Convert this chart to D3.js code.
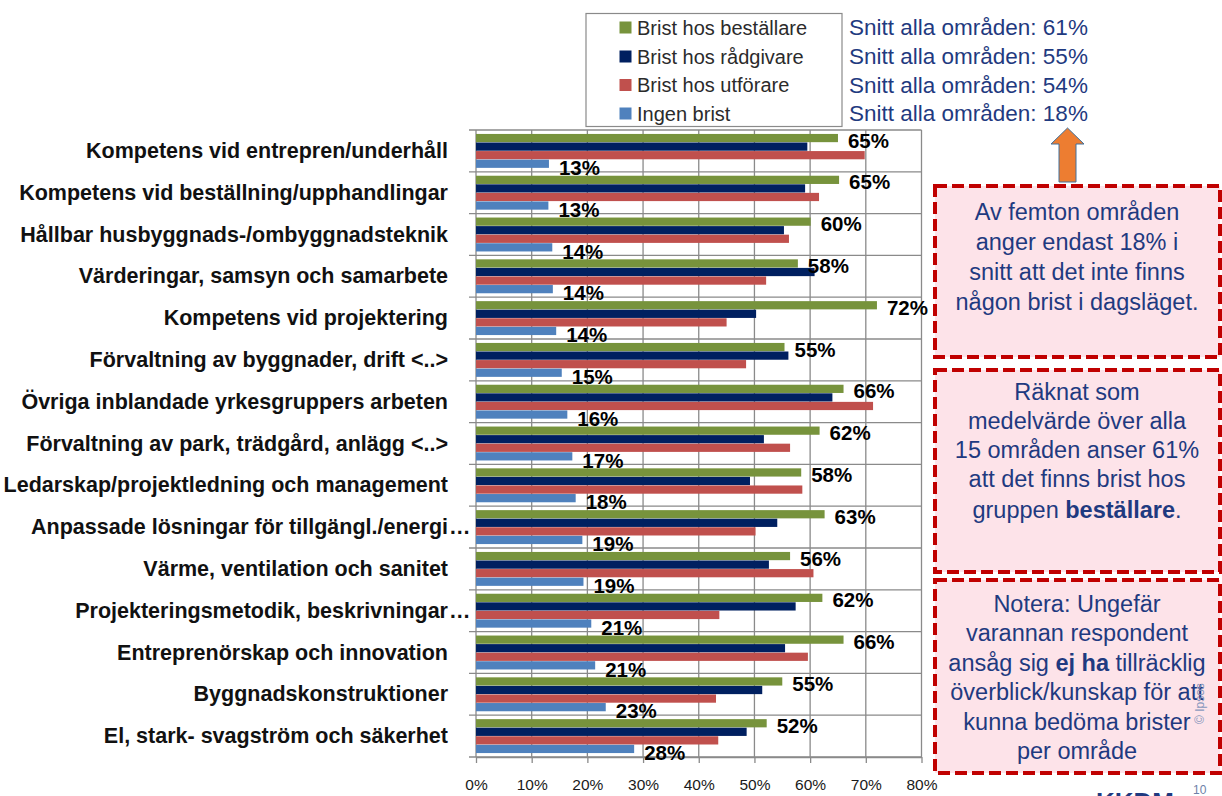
<!DOCTYPE html>
<html lang="sv">
<head>
    <meta charset="UTF-8">
    <script src="https://d3js.org/d3.v7.min.js"></script>
    <style>
        body { margin: 0; background: #fff; }
        text { font-family: "Liberation Sans", Arial, sans-serif; }
    </style>
</head>
<body>
    <svg id="chart" width="1222" height="796"></svg>

    <script>
        // Områden (uppifrån och ned)
        const categories = [
            "Kompetens vid entrepren/underhåll",
            "Kompetens vid beställning/upphandlingar",
            "Hållbar husbyggnads-/ombyggnadsteknik",
            "Värderingar, samsyn och samarbete",
            "Kompetens vid projektering",
            "Förvaltning av byggnader, drift <..>",
            "Övriga inblandade yrkesgruppers arbeten",
            "Förvaltning av park, trädgård, anlägg <..>",
            "Ledarskap/projektledning och management",
            "Anpassade lösningar för tillgängl./energi…",
            "Värme, ventilation och sanitet",
            "Projekteringsmetodik, beskrivningar…",
            "Entreprenörskap och innovation",
            "Byggnadskonstruktioner",
            "El, stark- svagström och säkerhet"
        ];

        const seriesNames = ["Brist hos beställare", "Brist hos rådgivare", "Brist hos utförare", "Ingen brist"];
        const seriesColors = ["#77933C", "#002060", "#C0504D", "#4F81BD"];

        const bestallare = [65, 65.2, 60.1, 57.8, 72, 55.4, 66, 61.7, 58.4, 62.6, 56.4, 62.2, 66, 55, 52.2];
        const radgivare  = [59.5, 59.1, 55.3, 60.8, 50.3, 56.1, 64, 51.7, 49.2, 54.1, 52.6, 57.4, 55.5, 51.4, 48.6];
        const utforare   = [69.8, 61.6, 56.2, 52.1, 45.0, 48.5, 71.3, 56.4, 58.6, 50.2, 60.6, 43.7, 59.6, 43.1, 43.5];
        const ingenBrist = [13.1, 13, 13.7, 13.8, 14.4, 15.4, 16.4, 17.3, 17.9, 19.1, 19.3, 20.7, 21.4, 23.3, 28.4];

        const snittValues = [61, 55, 54, 18];
        const xTicks = [0, 10, 20, 30, 40, 50, 60, 70, 80];

        const boxTexts = [
            ["Av femton områden", "anger endast 18% i", "snitt att det inte finns", "någon brist i dagsläget."],
            ["Räknat som", "medelvärde över alla", "15 områden anser 61%", "att det finns brist hos", ["gruppen ", "beställare", "."]],
            ["Notera: Ungefär", "varannan respondent", ["ansåg sig ", "ej ha", " tillräcklig"], "överblick/kunskap för att", "kunna bedöma brister", "per område"]
        ];

        const seriesData = [bestallare, radgivare, utforare, ingenBrist];

        const width = 1222, height = 796;
        const plot = { left: 476, right: 921.5, top: 130, bottom: 757 };
        const textBlue = "#1F3A80";
        const gridColor = "#8a8a8a";

        const svg = d3.select("#chart")
            .attr("width", width)
            .attr("height", height);

        const x = d3.scaleLinear()
            .domain([0, 80])
            .range([plot.left, plot.right]);

        const y = d3.scaleBand()
            .domain(categories)
            .range([plot.top, plot.bottom])
            .padding(0);

        const ySub = d3.scaleBand()
            .domain(seriesNames)
            .range([0, y.bandwidth()])
            .paddingInner(0.04)
            .paddingOuter(0.46);

        // Rutnät
        svg.append("g")
            .selectAll("line")
            .data(xTicks)
            .enter().append("line")
            .attr("x1", d => x(d)).attr("x2", d => x(d))
            .attr("y1", plot.top).attr("y2", plot.bottom)
            .attr("stroke", gridColor)
            .attr("stroke-width", 1.3);

        const boundaries = categories.map(c => y(c)).concat([plot.bottom]);
        svg.append("g")
            .selectAll("line")
            .data(boundaries)
            .enter().append("line")
            .attr("x1", plot.left - 7).attr("x2", plot.right)
            .attr("y1", d => d).attr("y2", d => d)
            .attr("stroke", gridColor)
            .attr("stroke-width", 1.3);

        // X-axel
        const xAxis = svg.append("g")
            .attr("transform", `translate(0,${plot.bottom})`)
            .call(d3.axisBottom(x).tickValues(xTicks).tickFormat(d => d + "%").tickSize(6).tickSizeOuter(0));
        xAxis.select(".domain").attr("stroke", gridColor).attr("stroke-width", 1.3);
        xAxis.selectAll(".tick line").attr("stroke", gridColor).attr("stroke-width", 1.3);
        xAxis.selectAll(".tick text")
            .attr("y", 22)
            .style("font-size", "15.5px")
            .attr("fill", "#1a1a1a");

        // Kategorietiketter
        const catLabels = svg.append("g");
        categories.forEach(c => {
            const cy = y(c) + y.bandwidth() / 2 + 7;
            const hasEllipsis = c.endsWith("…");
            catLabels.append("text")
                .attr("x", 448)
                .attr("y", cy)
                .attr("text-anchor", "end")
                .style("font-size", "21.5px")
                .style("font-weight", "bold")
                .attr("fill", "#111")
                .text(hasEllipsis ? c.slice(0, -1) : c);
            if (hasEllipsis) {
                catLabels.append("text")
                    .attr("x", 449)
                    .attr("y", cy)
                    .style("font-size", "21.5px")
                    .style("font-weight", "bold")
                    .attr("fill", "#111")
                    .text("…");
            }
        });

        // Staplar
        seriesData.forEach((vals, si) => {
            svg.append("g")
                .selectAll("rect")
                .data(vals)
                .enter().append("rect")
                .attr("x", x(0))
                .attr("y", (d, i) => y(categories[i]) + ySub(seriesNames[si]))
                .attr("width", d => x(d) - x(0))
                .attr("height", ySub.bandwidth())
                .attr("fill", seriesColors[si]);
        });

        // Värdeetiketter (beställare och ingen brist)
        svg.append("g")
            .selectAll("text")
            .data(bestallare)
            .enter().append("text")
            .attr("x", d => x(d) + 10)
            .attr("y", (d, i) => y(categories[i]) + 17.5)
            .style("font-size", "20.5px")
            .style("font-weight", "bold")
            .attr("fill", "#000")
            .text(d => Math.round(d) + "%");

        svg.append("g")
            .selectAll("text")
            .data(ingenBrist)
            .enter().append("text")
            .attr("x", d => x(d) + 10)
            .attr("y", (d, i) => y(categories[i]) + 45)
            .style("font-size", "20.5px")
            .style("font-weight", "bold")
            .attr("fill", "#000")
            .text(d => Math.round(d) + "%");

        // Legend
        const legend = svg.append("g");
        legend.append("rect")
            .attr("x", 586).attr("y", 13.5)
            .attr("width", 256).attr("height", 113)
            .attr("fill", "#fff")
            .attr("stroke", "#8a8a8a")
            .attr("stroke-width", 1.2);

        const rowY = [27.5, 56.5, 85, 113.5];
        seriesNames.forEach((s, i) => {
            legend.append("rect")
                .attr("x", 619.5).attr("y", rowY[i] - 6)
                .attr("width", 12).attr("height", 12)
                .attr("fill", seriesColors[i]);
            legend.append("text")
                .attr("x", 637).attr("y", rowY[i] + 7)
                .style("font-size", "20px")
                .attr("fill", "#2b2b2b")
                .text(s);
            svg.append("text")
                .attr("x", 849).attr("y", rowY[i] + 7.5)
                .style("font-size", "22.5px")
                .attr("fill", textBlue)
                .text(`Snitt alla områden: ${snittValues[i]}%`);
        });

        // Orange pil
        svg.append("path")
            .attr("d", "M1067.5,128 L1084,144 L1076,144 L1076,182 L1059,182 L1059,144 L1051,144 Z")
            .attr("fill", "#ED7D31")
            .attr("stroke", "#41719C")
            .attr("stroke-width", 1);

        // Textrutor
        const boxes = [
            { y: 186, h: 171, lineY: [220, 250, 280, 310] },
            { y: 370, h: 202, lineY: [400, 429, 458, 487, 518] },
            { y: 580, h: 193, lineY: [612, 641, 671, 700, 730, 759] }
        ];
        boxes.forEach((b, bi) => {
            svg.append("rect")
                .attr("x", 935).attr("y", b.y)
                .attr("width", 285).attr("height", b.h)
                .attr("fill", "#FDE3E9")
                .attr("stroke", "#C00000")
                .attr("stroke-width", 4)
                .attr("stroke-dasharray", "12,5");
            boxTexts[bi].forEach((line, li) => {
                const t = svg.append("text")
                    .attr("x", 1077)
                    .attr("y", b.lineY[li])
                    .attr("text-anchor", "middle")
                    .style("font-size", "23.5px")
                    .attr("fill", textBlue);
                if (Array.isArray(line)) {
                    line.forEach((part, pi) => {
                        t.append("tspan")
                            .style("font-weight", pi === 1 ? "bold" : "normal")
                            .text(part);
                    });
                } else {
                    t.text(line);
                }
            });
        });

        // Sidfot
        svg.append("text")
            .attr("transform", "translate(1204,724) rotate(-90)")
            .style("font-size", "12px")
            .attr("fill", "#8797bd")
            .text("© Ipsos");

        svg.append("text")
            .attr("x", 1193).attr("y", 794)
            .style("font-size", "12px")
            .attr("fill", "#6d7fa8")
            .text("10");

        svg.append("text")
            .attr("x", 1096).attr("y", 811)
            .style("font-size", "26px")
            .style("font-weight", "bold")
            .attr("fill", textBlue)
            .text("KKDM");
    </script>
</body>
</html>
